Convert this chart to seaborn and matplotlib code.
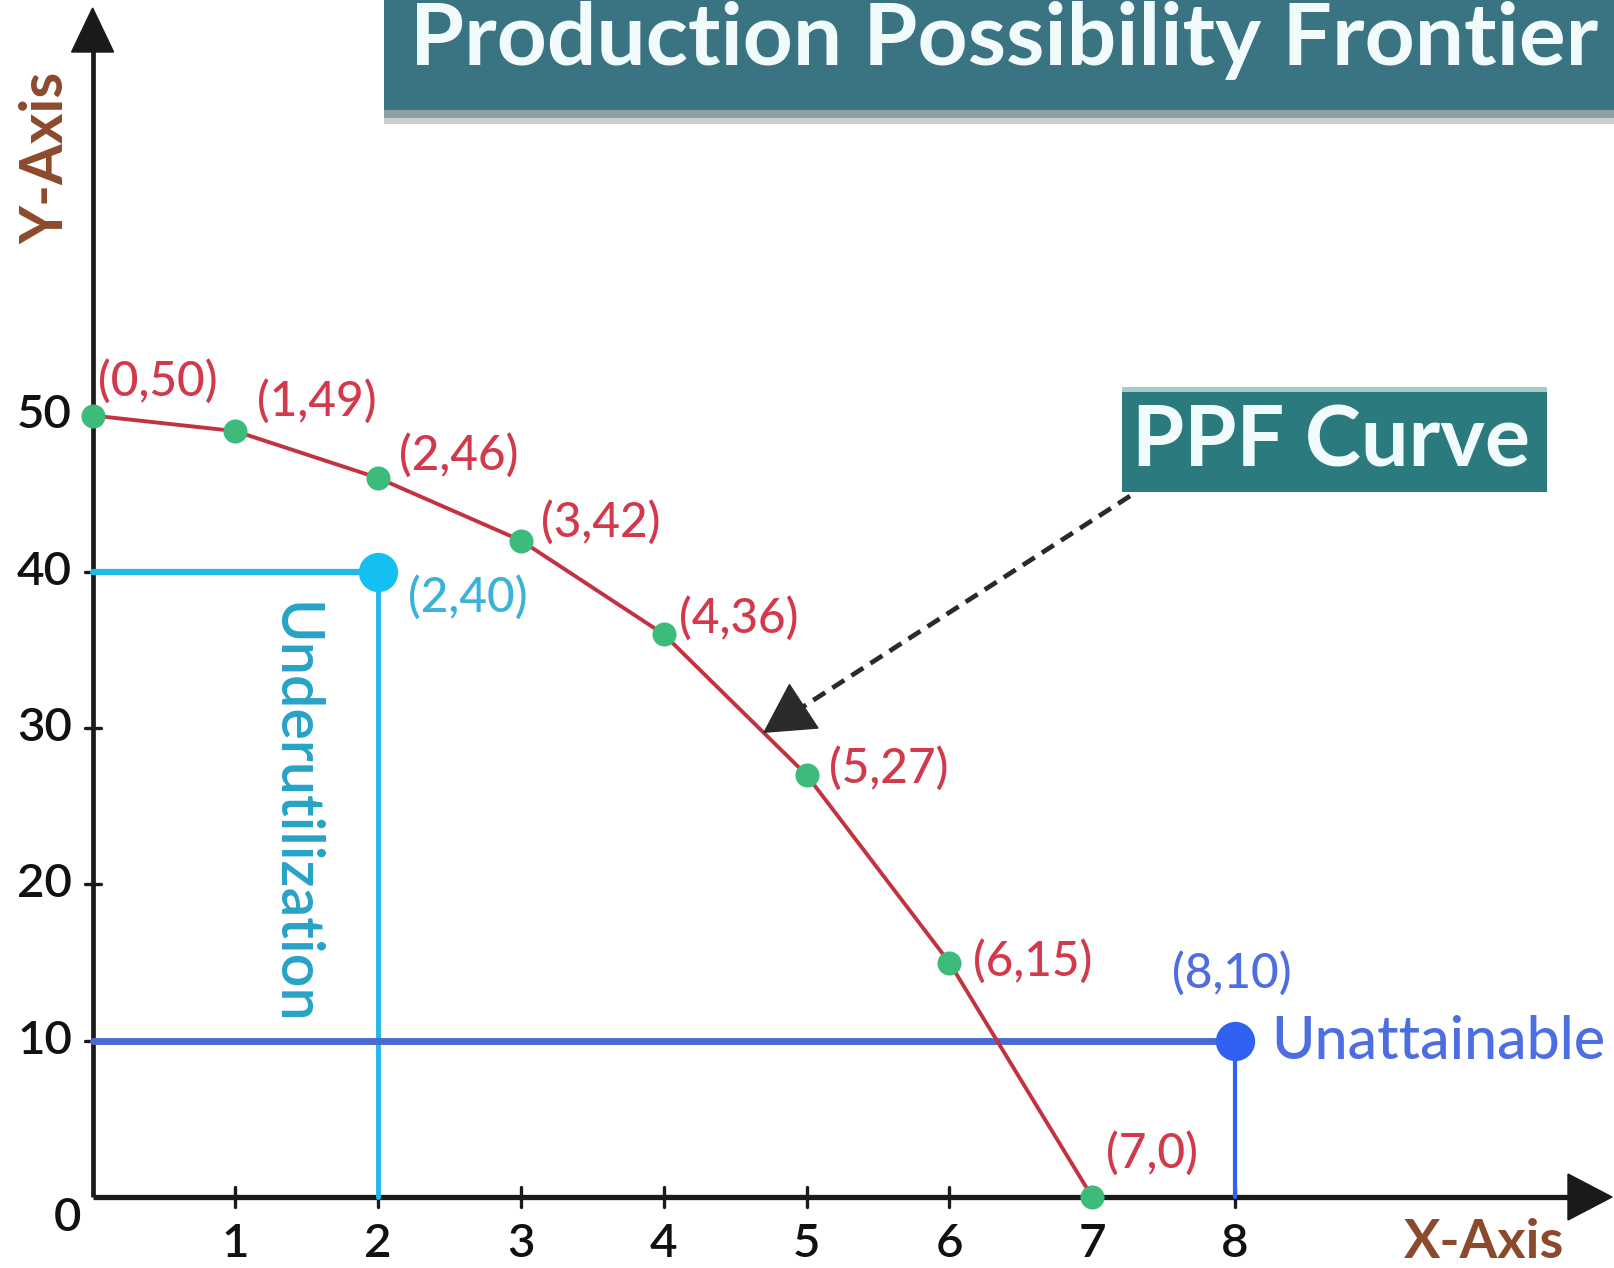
import numpy as np
import pandas as pd
import matplotlib
matplotlib.use("Agg")
import matplotlib.pyplot as plt
import seaborn as sns
from matplotlib.patches import Rectangle, Polygon

# ---------------- data ----------------
ppf_x = [0, 1, 2, 3, 4, 5, 6, 7]
ppf_y = [50, 49, 46, 42, 36, 27, 15, 0]
ppf_labels = ["(0,50)", "(1,49)", "(2,46)", "(3,42)", "(4,36)", "(5,27)", "(6,15)", "(7,0)"]
under_x, under_y = 2, 40
under_label = "(2,40)"
unatt_x, unatt_y = 8, 10
unatt_label = "(8,10)"
x_ticks = [1, 2, 3, 4, 5, 6, 7, 8]
y_ticks = [10, 20, 30, 40, 50]
title = "Production Possibility Frontier"

# ---------------- style ----------------
sns.set_theme(style="white")
plt.rcParams['font.family'] = ['Lato', 'DejaVu Sans']

W, H = 1614, 1268
X0, PX = 92.6, 142.8       # pixel of x=0, pixels per x unit
YB, PY = 71.0, 15.63       # pixels from bottom for y=0, pixels per y unit

C_CURVE = "#c3323f"
C_DOT = "#3dbb7a"
C_RED = "#d23a4c"
C_CYAN = "#22b9ea"
C_CYAN_TXT = "#3cb3d6"
C_CYAN_LBL = "#27a2c6"
C_BLUE = "#4a6bd2"
C_BLUE_DOT = "#2f62f2"
C_BLUE_TXT = "#4d6ee0"
C_BROWN = "#8c4a2c"
C_TEAL1 = "#3a7483"
C_TEAL2 = "#2b7a7e"
C_AXIS = "#1a1a1a"

fig = plt.figure(figsize=(W / 100, H / 100), dpi=100)
fig.patch.set_facecolor("white")
ax = fig.add_axes([0, 0, 1, 1])


def set_frame():
    ax.set_xlim(-X0 / PX, (W - X0) / PX)
    ax.set_ylim(-YB / PY, (H - YB) / PY)
    ax.axis("off")


set_frame()


def P(xp, yp):
    """pixel (top-left origin) -> data coords (for annotation placement)"""
    return ((xp - X0) / PX, (H - yp - YB) / PY)


def A(xp, yp):
    """pixel -> axes fraction"""
    return (xp / W, 1 - yp / H)


renderer = fig.canvas.get_renderer()


def fit(t, w=None, h=None):
    bb = t.get_window_extent(renderer)
    fs = t.get_fontsize()
    if w is not None:
        t.set_fontsize(fs * w / bb.width)
    else:
        t.set_fontsize(fs * h / bb.height)
    return t.get_fontsize()


# ---------------- axes with arrows ----------------
ytop = P(0, 50)[1]
xright = P(1570, 0)[0]
ax.plot([0, 0], [0, ytop], color=C_AXIS, lw=3.4, solid_capstyle="butt", zorder=2)
ax.plot([0, xright], [0, 0], color=C_AXIS, lw=3.8, solid_capstyle="butt", zorder=2)
ax.add_patch(Polygon([P(X0, 8), P(X0 - 21, 52), P(X0 + 21, 52)], closed=True,
                     color=C_AXIS, zorder=3))
ax.add_patch(Polygon([P(1612, 1197), P(1568, 1174), P(1568, 1220)], closed=True,
                     color=C_AXIS, zorder=3))

# tick marks
tx = 8 / PX
ty = 10 / PY
for v in y_ticks:
    ax.plot([-tx, tx], [v, v], color=C_AXIS, lw=2.4, zorder=2)
for v in x_ticks:
    ax.plot([v, v], [-ty, ty], color=C_AXIS, lw=2.4, zorder=2)

# tick labels
ref = ax.text(0, 0, "50", fontsize=30, fontweight="semibold")
tfs = fit(ref, w=55)
ref.remove()
for v in y_ticks:
    ax.text(P(72, 0)[0], v, str(v), ha="right", va="center", fontsize=tfs,
            fontweight="semibold", color="#111111")
for v in x_ticks:
    ax.text(v, P(0, 1244)[1], str(v), ha="center", va="center", fontsize=tfs,
            fontweight="semibold", color="#111111")
ax.text(P(67, 0)[0], P(0, 1218)[1], "0", ha="center", va="center", fontsize=tfs,
        fontweight="semibold", color="#111111")

# axis labels
t = ax.text(*P(46, 158), "Y-Axis", rotation=90, ha="center", va="center",
            fontsize=30, fontweight="bold", color=C_BROWN)
fit(t, h=172)
t = ax.text(*P(1484, 1242), "X-Axis", ha="center", va="center",
            fontsize=30, fontweight="bold", color=C_BROWN)
fit(t, w=160)

# ---------------- underutilization / unattainable guides ----------------
ax.plot([0, under_x], [under_y, under_y], color=C_CYAN, lw=4.5, zorder=3)
ax.plot([under_x, under_x], [under_y, 0], color=C_CYAN, lw=3.5, zorder=3)
ax.plot([0, unatt_x], [unatt_y, unatt_y], color=C_BLUE, lw=5.0, zorder=3)
ax.plot([unatt_x, unatt_x], [unatt_y, 0], color=C_BLUE_DOT, lw=3.0, zorder=3)

# ---------------- PPF curve ----------------
df = pd.DataFrame({"x": ppf_x, "y": ppf_y})
sns.lineplot(data=df, x="x", y="y", ax=ax, color=C_CURVE, lw=2.8, sort=False, zorder=4)
sns.scatterplot(data=df, x="x", y="y", ax=ax, color=C_DOT, s=300, linewidth=0, zorder=5)
sns.scatterplot(x=[under_x], y=[under_y], ax=ax, color="#14bff2", s=800, linewidth=0, zorder=5)
sns.scatterplot(x=[unatt_x], y=[unatt_y], ax=ax, color=C_BLUE_DOT, s=800, linewidth=0, zorder=5)
set_frame()

# point labels
label_pos = [(98, 381), (257, 401), (399, 455), (541, 522), (679, 618),
             (829, 768), (973, 961), (1106, 1153)]
ref = ax.text(0, 0, "(2,46)", fontsize=24, fontweight="medium")
lfs = fit(ref, w=120)
ref.remove()
for lab, (xp, yp) in zip(ppf_labels, label_pos):
    ax.text(*P(xp, yp), lab, ha="left", va="center", fontsize=lfs,
            fontweight="medium", color=C_RED, zorder=6)
ax.text(*P(408, 597), under_label, ha="left", va="center", fontsize=lfs,
        fontweight="medium", color=C_CYAN_TXT, zorder=6)
ax.text(*P(1232, 973), unatt_label, ha="center", va="center", fontsize=lfs,
        fontweight="medium", color=C_BLUE_TXT, zorder=6)

t = ax.text(*P(1271, 1042), "Unattainable", ha="left", va="center", fontsize=34,
            fontweight="medium", color=C_BLUE_TXT, zorder=6)
fit(t, w=335)
t = ax.text(*P(293, 813), "Underutilization", rotation=-90, ha="center", va="center",
            fontsize=30, fontweight="semibold", color=C_CYAN_LBL, zorder=6)
fit(t, h=422)

# ---------------- title box ----------------
ax.add_patch(Rectangle(A(384, 124), (W - 384) / W, 16 / H, transform=ax.transAxes,
                       color="#c8d0d1", lw=0, zorder=7))
ax.add_patch(Rectangle(A(384, 118), (W - 384) / W, 10 / H, transform=ax.transAxes,
                       color="#8d9fa2", lw=0, zorder=7))
ax.add_patch(Rectangle(A(384, 110), (W - 384) / W, 110 / H, transform=ax.transAxes,
                       color=C_TEAL1, lw=0, zorder=8))
t = ax.text(*A(1004, 40), title, transform=ax.transAxes, ha="center", va="center",
            fontsize=56, fontweight="bold", color="#f2fbfb", zorder=9)
fit(t, w=1188)

# ---------------- PPF Curve box & arrow ----------------
ax.add_patch(Rectangle(A(1122, 492), (1547 - 1122) / W, (492 - 387) / H,
                       transform=ax.transAxes, color=C_TEAL2, lw=0, zorder=7))
ax.add_patch(Rectangle(A(1122, 392), (1547 - 1122) / W, 5 / H,
                       transform=ax.transAxes, color="#a6c9cc", lw=0, zorder=8))
t = ax.text(*A(1331, 442), "PPF Curve", transform=ax.transAxes, ha="center", va="center",
            fontsize=50, fontweight="bold", color="#f2fbfb", zorder=9)
fit(t, w=399)

start = P(1130, 496)
base = P(795, 712)
tip = P(763, 733)
ax.plot([start[0], base[0]], [start[1], base[1]], color="#2a2a2a", lw=3.4,
        linestyle=(0, (3, 1.8)), zorder=6)
ax.annotate("", xy=tip, xytext=base,
            arrowprops=dict(arrowstyle="-|>,head_length=1.0,head_width=0.55",
                            lw=1, color="#2a2a2a", mutation_scale=34,
                            shrinkA=0, shrinkB=0),
            zorder=6)

fig.savefig("out.png", dpi=100)
